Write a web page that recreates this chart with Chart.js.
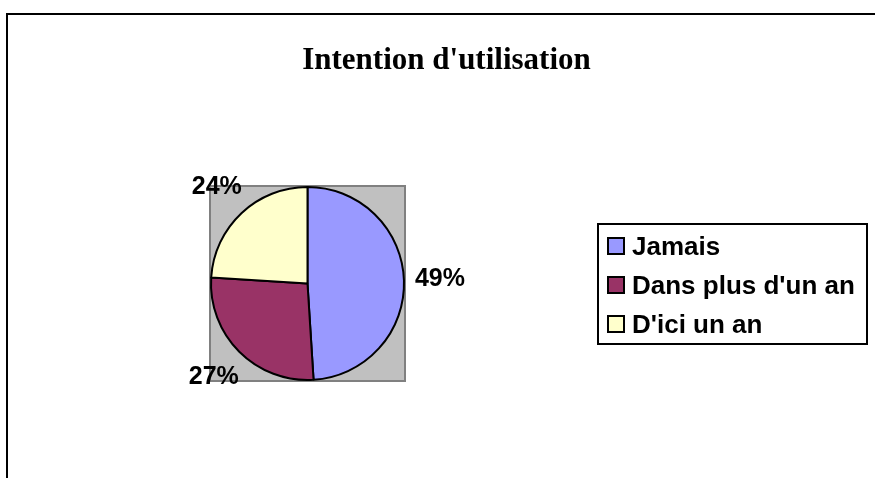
<!DOCTYPE html>
<html>
<head>
<meta charset="utf-8">
<script src="https://cdn.jsdelivr.net/npm/chart.js@4"></script>
<style>
    html, body { margin: 0; padding: 0; background: #fff; }
    canvas { display: block; }
</style>
</head>
<body>
<canvas id="pieChart" width="875" height="478"></canvas>
<script>
// --- Data ---
const chartTitle = "Intention d'utilisation";
const categories = ['Jamais', "Dans plus d'un an", "D'ici un an"];
const percentages = [49, 27, 24];
const sliceColors = ['#9999FF', '#993366', '#FFFFCC'];

// --- Plugins ---

// gray plot area + outer frame + title, drawn under the pie
const backdrop = {
    id: 'backdrop',
    beforeDraw: (chart) => {
        const { ctx, chartArea } = chart;
        ctx.save();
        ctx.fillStyle = '#fff';
        ctx.fillRect(0, 0, chart.width, chart.height);

        // frame (runs off the right and bottom edges like the original)
        ctx.strokeStyle = '#000';
        ctx.lineWidth = 2;
        ctx.strokeRect(7, 14, 1000, 1000);

        // gray square behind the pie
        ctx.fillStyle = '#C0C0C0';
        ctx.fillRect(chartArea.left, chartArea.top, chartArea.width, chartArea.height);
        ctx.strokeStyle = '#808080';
        ctx.lineWidth = 2;
        ctx.strokeRect(chartArea.left, chartArea.top, chartArea.width, chartArea.height);

        // title
        ctx.fillStyle = '#000';
        ctx.font = 'bold 31px "Liberation Serif", "Times New Roman", serif';
        ctx.textAlign = 'center';
        ctx.textBaseline = 'alphabetic';
        ctx.fillText(chartTitle, 446.5, 69);
        ctx.restore();
    }
};

// percentage labels outside the slices + boxed legend on the right
const annotations = {
    id: 'annotations',
    afterDraw: (chart) => {
        const { ctx } = chart;
        const meta = chart.getDatasetMeta(0);
        ctx.save();
        ctx.fillStyle = '#000';
        ctx.font = 'bold 25px "Liberation Sans", Arial, sans-serif';
        ctx.textAlign = 'center';
        ctx.textBaseline = 'middle';
        meta.data.forEach((arc, i) => {
            const { x, y, startAngle, endAngle, outerRadius } = arc.getProps(['x', 'y', 'startAngle', 'endAngle', 'outerRadius'], true);
            const mid = (startAngle + endAngle) / 2;
            const r = outerRadius + 36;
            ctx.fillText(percentages[i] + '%', x + r * Math.cos(mid), y + r * Math.sin(mid));
        });

        // legend box
        const box = { left: 598, top: 224, width: 269, height: 120 };
        ctx.fillStyle = '#fff';
        ctx.fillRect(box.left, box.top, box.width, box.height);
        ctx.strokeStyle = '#000';
        ctx.lineWidth = 2;
        ctx.strokeRect(box.left, box.top, box.width, box.height);

        ctx.font = 'bold 26px "Liberation Sans", Arial, sans-serif';
        ctx.textAlign = 'left';
        ctx.textBaseline = 'alphabetic';
        categories.forEach((label, i) => {
            const baseline = 255 + i * 39;
            ctx.fillStyle = sliceColors[i];
            ctx.fillRect(608, baseline - 17, 16, 16);
            ctx.strokeStyle = '#000';
            ctx.lineWidth = 2;
            ctx.strokeRect(608, baseline - 17, 16, 16);
            ctx.fillStyle = '#000';
            ctx.fillText(label, 632, baseline);
        });
        ctx.restore();
    }
};

// --- Chart ---
new Chart(document.getElementById('pieChart'), {
    type: 'pie',
    data: {
        labels: categories,
        datasets: [{
            data: percentages,
            backgroundColor: sliceColors,
            borderColor: '#000',
            borderWidth: 2
        }]
    },
    options: {
        responsive: false,
        animation: false,
        layout: { padding: { left: 210, top: 186, right: 470, bottom: 97 } },
        plugins: {
            legend: { display: false },
            tooltip: { enabled: false },
            title: { display: false }
        }
    },
    plugins: [backdrop, annotations]
});
</script>
</body>
</html>
